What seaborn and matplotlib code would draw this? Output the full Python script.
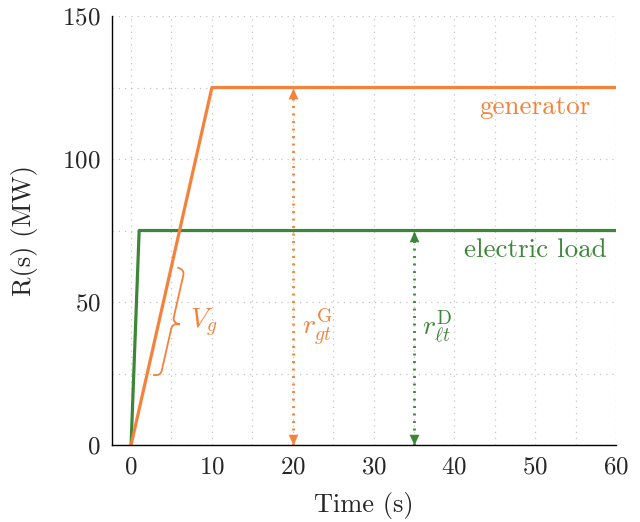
import matplotlib
matplotlib.use('Agg')
import matplotlib.pyplot as plt
import numpy as np
import pandas as pd
import seaborn as sns
from matplotlib.path import Path
from matplotlib.patches import PathPatch
from matplotlib.ticker import MultipleLocator

# Data
gen_time = [0, 10, 60]
gen_power = [0, 125, 125]
load_time = [0, 1, 60]
load_power = [0, 75, 75]
gen_arrow_t = 20
load_arrow_t = 35
brace_span = [2, 5]   # part of the generator ramp marked by V_g

x_ticks = [0, 10, 20, 30, 40, 50, 60]
y_ticks = [0, 50, 100, 150]

orange = '#F5823C'
green = '#3C8737'

sns.set_style('white')
plt.rcParams['font.family'] = ['cmr10', 'DejaVu Serif']
plt.rcParams['mathtext.fontset'] = 'cm'
plt.rcParams['axes.formatter.use_mathtext'] = True
plt.rcParams['font.size'] = 18

df_gen = pd.DataFrame({'t': gen_time, 'p': gen_power})
df_load = pd.DataFrame({'t': load_time, 'p': load_power})

fig = plt.figure(figsize=(6.4, 5.22), dpi=100)
ax = fig.add_axes([0.1745, 0.1475, 0.788, 0.8218])

sns.lineplot(data=df_load, x='t', y='p', color=green, lw=2.3, ax=ax)
sns.lineplot(data=df_gen, x='t', y='p', color=orange, lw=2.3, ax=ax)

ax.set_xlim(-2.4, 60)
ax.set_ylim(0, 150)
ax.set_xticks(x_ticks)
ax.set_yticks(y_ticks)
ax.xaxis.set_minor_locator(MultipleLocator(5))
ax.yaxis.set_minor_locator(MultipleLocator(25))
ax.grid(True, which='both', color='#c4c4c4', linestyle=(0, (1, 4)), lw=0.9)
ax.set_axisbelow(True)
ax.tick_params(which='both', direction='in', length=5, width=0.8, color='#8c8c8c',
               labelsize=18, pad=8)
for s in ['top', 'right']:
    ax.spines[s].set_visible(False)
for s in ['left', 'bottom']:
    ax.spines[s].set_color('black')
    ax.spines[s].set_linewidth(1.0)

ax.set_xlabel('Time (s)', fontsize=19, labelpad=10)
ax.set_ylabel('R(s) (MW)', fontsize=19, labelpad=17)

# double arrows (dotted shaft + triangle heads)
up_head = [(0, 0), (-0.45, -1), (0.45, -1), (0, 0)]
down_head = [(0, 0), (-0.45, 1), (0.45, 1), (0, 0)]
for t, top, c in [(gen_arrow_t, max(gen_power), orange),
                  (load_arrow_t, max(load_power), green)]:
    ax.plot([t, t], [0, top], color=c, lw=2.0, linestyle=(0, (0.7, 2.0)))
    ax.plot([t], [top], marker=up_head, markersize=15.5, color=c, mew=0)
    ax.plot([t], [0], marker=down_head, markersize=15.5, color=c, mew=0)

# labels
ax.text(50, 118, 'generator', color=orange, ha='center', va='center', fontsize=19.5)
ax.text(50, 68, 'electric load', color=green, ha='center', va='center', fontsize=19.5)
ax.text(23.0, 41.5, r'$r_{gt}^{\mathrm{G}}$', color=orange, ha='center', va='center', fontsize=20)
ax.text(37.9, 41.5, r'$r_{\ell t}^{\mathrm{D}}$', color=green, ha='center', va='center', fontsize=20)
ax.text(9.0, 42.7, r'$V_g$', color=orange, ha='center', va='center', fontsize=20)

# curly brace along the generator ramp (built in pixel space)
p0 = ax.transData.transform((brace_span[0], np.interp(brace_span[0], gen_time, gen_power)))
p1 = ax.transData.transform((brace_span[1], np.interp(brace_span[1], gen_time, gen_power)))
u = (p1 - p0) / np.linalg.norm(p1 - p0)
n = np.array([u[1], -u[0]])
p0 = p0 + 6 * n
p1 = p1 + 6 * n
L = np.linalg.norm(p1 - p0)
w = 15.0
r = 6.0
local = [(0, 0), (0, w / 2), (r, w / 2), (L / 2 - r, w / 2), (L / 2, w / 2), (L / 2, w),
         (L / 2, w / 2), (L / 2 + r, w / 2), (L - r, w / 2), (L, w / 2), (L, 0)]
codes = [Path.MOVETO, Path.CURVE3, Path.CURVE3, Path.LINETO, Path.CURVE3, Path.CURVE3,
         Path.CURVE3, Path.CURVE3, Path.LINETO, Path.CURVE3, Path.CURVE3]
pix = np.array([p0 + s * u + h * n for s, h in local])
verts = ax.transData.inverted().transform(pix)
ax.add_patch(PathPatch(Path(verts, codes), fill=False, edgecolor=orange, lw=1.3))

fig.savefig('out.png', dpi=100)
